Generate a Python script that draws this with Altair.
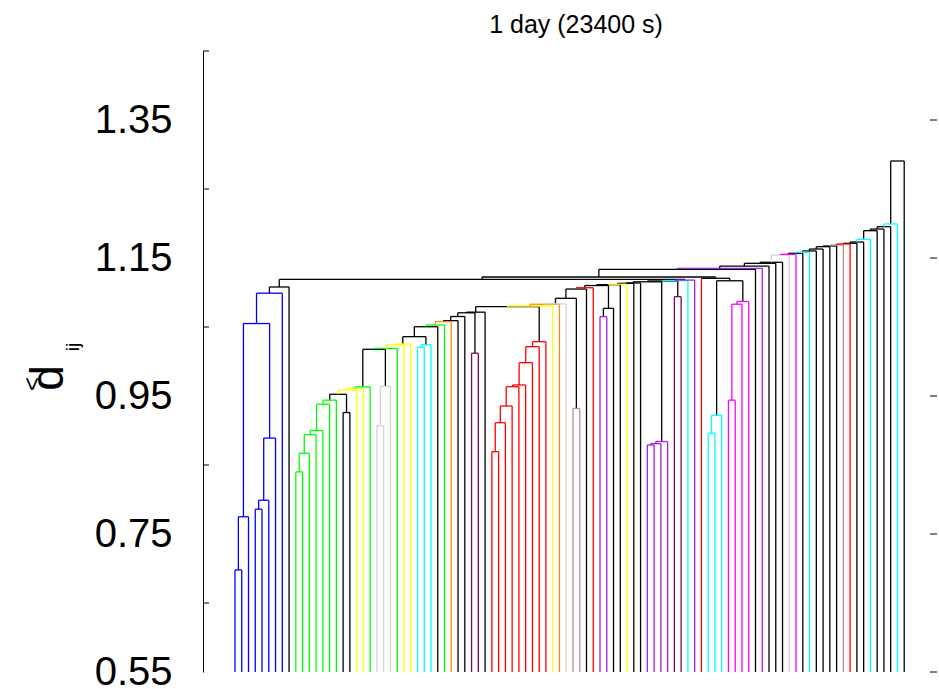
import altair as alt
import pandas as pd

TITLE = "1 day (23400 s)"
y_domain = [0.55, 1.45]
y_major = [0.55, 0.75, 0.95, 1.15, 1.35]
y_minor = [0.65, 0.85, 1.05, 1.25, 1.45]

# sector code of each leaf, in dendrogram order
leaf_sector = (
    list("bbbbbbbb") + ["k"] + list("ggggggg") + list("kk") + list("yy") + ["g"]
    + list("lll") + ["g"] + list("yy") + list("ccc") + list("kgokk") + list("mm")
    + ["k"] + list("rrrrrrrrr") + list("yol") + list("ss") + list("kr") + list("pp")
    + list("kkykk") + list("pppp") + list("mm") + list("cpr") + list("ccc")
    + list("ffff") + list("kpkkklfkc") + list("kkkk") + list("srkkc") + list("kkkck")
)

# distance at which neighbouring leaves i and i+1 first share a cluster
merge_gap = [
    0.698, 0.775, 1.055, 0.786, 0.799, 0.889, 1.099, 1.108, 1.119,
    0.840, 0.867, 0.894, 0.900, 0.938, 0.944, 0.9525, 0.926, 0.9587, 0.961,
    0.9633, 1.0177, 0.907, 0.964, 1.019, 1.0239, 1.0253, 1.036, 1.0207, 1.0242,
    1.0504, 1.0529, 1.0577, 1.0592, 1.0652, 1.0706, 1.012, 1.0715, 1.0794,
    0.8693, 0.9113, 0.9355, 0.9635, 0.966, 0.9983, 1.0215, 1.0287,
    1.0804, 1.083, 1.0835, 1.0916, 0.932, 1.105, 1.1069, 1.1101, 1.065, 1.077,
    1.1114, 1.112, 1.1133, 1.1138, 1.1155, 0.879, 0.881, 0.884, 1.1167, 1.094,
    1.1173, 1.118, 1.1225, 1.1206, 0.896, 0.922, 1.117, 0.944, 1.083, 1.087,
    1.1336, 1.135, 1.1383, 1.1423, 1.1438, 1.1543, 1.1553, 1.1568, 1.1583,
    1.1602, 1.1630, 1.1664, 1.1674, 1.1688, 1.1703, 1.1713, 1.1732, 1.1771,
    1.1896, 1.1920, 1.1954, 1.1993, 1.2906,
]

sector_rgb = {
    "k": "#000000", "b": "#0000ff", "g": "#00ff00", "y": "#ffff00",
    "l": "#d3d3d3", "c": "#00ffff", "o": "#ff8c00", "m": "#7a0a50",
    "r": "#ff0000", "s": "#bc8f8f", "p": "#a020f0", "f": "#ff00ff",
}

segments = []


def build(lo, hi):
    """Split the ordered leaves at the largest gap and return the subtree."""
    if lo == hi:
        return {"x": float(lo), "h": y_domain[0], "leaf": True, "code": leaf_sector[lo]}
    k = max(range(lo, hi), key=lambda j: merge_gap[j])
    left, right = build(lo, k), build(k + 1, hi)
    h = merge_gap[k]
    codes = set(leaf_sector[lo:hi + 1])
    uniform = next(iter(codes)) if len(codes) == 1 else "k"
    if uniform != "k":
        link = uniform
    elif right["leaf"] and not left["leaf"]:
        link = right["code"]
    else:
        link = "k"
    for child in (left, right):
        vcode = child["code"] if child["leaf"] else link
        segments.append({"x": child["x"], "x2": child["x"], "y": child["h"], "y2": h,
                         "c": sector_rgb[vcode]})
    segments.append({"x": left["x"], "x2": right["x"], "y": h, "y2": h, "c": sector_rgb[link]})
    return {"x": (left["x"] + right["x"]) / 2, "h": h, "leaf": False, "code": uniform}


build(0, len(leaf_sector) - 1)
links_df = pd.DataFrame(segments)
links_df["black"] = links_df["c"] == "#000000"
links_df = links_df.sort_values("black", ascending=False, kind="stable").reset_index(drop=True)

W, H = 734, 621
x_scale = alt.Scale(domain=[-4.73, 103.85], nice=False, zero=False)
y_scale = alt.Scale(domain=y_domain, nice=False, zero=False)

links = alt.Chart(links_df).mark_rule(strokeWidth=1.3).encode(
    x=alt.X("x:Q", scale=x_scale, axis=None),
    x2="x2:Q",
    y=alt.Y(
        "y:Q",
        scale=y_scale,
        axis=alt.Axis(
            values=y_major, format=".2f", title=None, grid=False,
            labelFont="Liberation Sans", labelFontSize=40, labelColor="#000000",
            labelPadding=31, labelFlush=False, labelOverlap=False,
            tickSize=0, domainColor="#000000", domainWidth=1,
        ),
    ),
    y2="y2:Q",
    color=alt.Color("c:N", scale=None),
)

minor_ticks = alt.Chart(pd.DataFrame({"v": y_minor})).mark_rule(
    color="#000000", strokeWidth=1
).encode(y=alt.Y("v:Q", scale=y_scale), x=alt.value(0), x2=alt.value(6))

right_ticks = alt.Chart(pd.DataFrame({"v": y_major})).mark_rule(
    color="#000000", strokeWidth=1
).encode(y=alt.Y("v:Q", scale=y_scale), x=alt.value(W - 7), x2=alt.value(W))

# axis title: d with a "<" mark above it and an "ij" subscript, read bottom to top
d_main = alt.Chart(pd.DataFrame({"t": ["d"]})).mark_text(
    font="Liberation Sans", fontSize=46, angle=270, align="center", baseline="alphabetic"
).encode(text="t:N", x=alt.value(-140), y=alt.value(327))
d_sup = alt.Chart(pd.DataFrame({"t": ["<"]})).mark_text(
    font="Liberation Sans", fontSize=24, angle=270, align="center", baseline="alphabetic"
).encode(text="t:N", x=alt.value(-163), y=alt.value(333))
d_sub = alt.Chart(pd.DataFrame({"t": ["ij"]})).mark_text(
    font="Liberation Sans", fontSize=19, angle=270, align="center", baseline="alphabetic"
).encode(text="t:N", x=alt.value(-124), y=alt.value(296))

chart = alt.layer(links, minor_ticks, right_ticks, d_main, d_sup, d_sub).properties(
    width=W,
    height=H,
    title=alt.TitleParams(TITLE, font="Liberation Sans", fontSize=25, fontWeight="normal",
                          anchor="middle", offset=13, dx=6, color="#000000"),
    autosize=alt.AutoSizeParams(type="none"),
    padding={"left": 203, "top": 51, "right": 2, "bottom": 17},
    background="#ffffff",
).configure_view(stroke=None)

chart.save("out.html", embed_options={"renderer": "svg", "actions": False})
